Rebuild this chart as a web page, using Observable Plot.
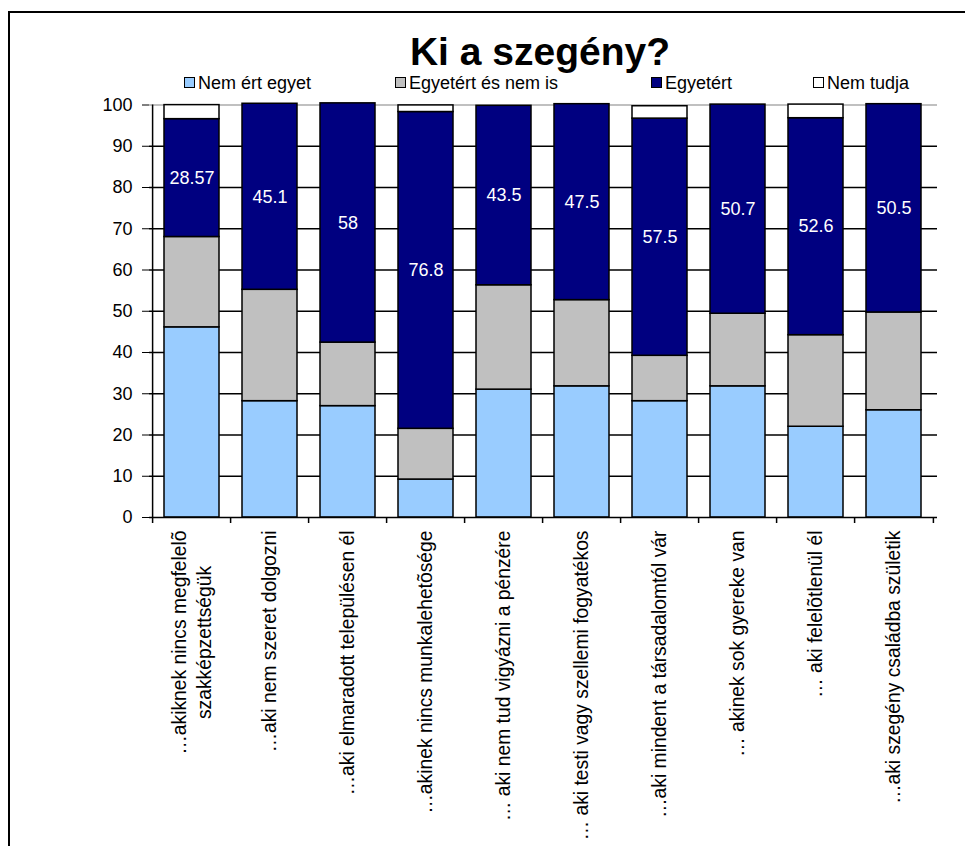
<!DOCTYPE html>
<html>
<head>
<meta charset="utf-8">
<script src="https://cdn.jsdelivr.net/npm/d3@7"></script>
<script src="https://cdn.jsdelivr.net/npm/@observablehq/plot@0.6"></script>
<style>
  html, body { margin: 0; padding: 0; background: #fff; width: 965px; height: 846px; overflow: hidden; }
  body { position: relative; font-family: "Liberation Sans", Arial, sans-serif; color: #000; }
  #frame { position: absolute; left: 8px; top: 11px; width: 1000px; height: 1000px; border: 2px solid #000; box-sizing: border-box; pointer-events: none; z-index: 5; }
  #title { position: absolute; left: 0; width: 1080px; top: 32px; text-align: center; font-weight: bold; font-size: 39px; line-height: 39px; white-space: nowrap; }
  .lg-item { position: absolute; top: 74px; height: 18px; white-space: nowrap; }
  .lg-sw { position: absolute; left: 0; top: 3px; width: 11px; height: 11px; box-sizing: border-box; border: 1px solid #000; }
  .lg-tx { position: absolute; left: 14px; top: 0; font-size: 18px; line-height: 18px; }
  #chart { position: absolute; left: 0; top: 95px; }
</style>
</head>
<body>
<div id="frame"></div>
<div id="title"></div>
<div id="legend"></div>
<div id="chart"></div>
<script>
// ---- data ----
const title = "Ki a szegény?";
const categories = [
  "…akiknek nincs megfelelõ\nszakképzettségük",
  "…aki nem szeret dolgozni",
  "…aki elmaradott településen él",
  "…akinek nincs munkalehetõsége",
  "… aki nem tud vigyázni a pénzére",
  "… aki testi vagy szellemi fogyatékos",
  "…aki mindent a társadalomtól vár",
  "… akinek sok gyereke van",
  "… aki felelõtlenül él",
  "…aki szegény családba születik"
];
const series = ["Nem ért egyet", "Egyetért és nem is", "Egyetért", "Nem tudja"];
const nemErtEgyet     = [46.1, 28.2, 27.0,  9.2, 31.0, 31.8, 28.2, 31.8, 22.0, 26.0];
const egyetertEsNemIs = [21.9, 27.0, 15.4, 12.3, 25.3, 20.9, 11.0, 17.6, 22.2, 23.7];
const egyetert        = [28.57, 45.1, 58, 76.8, 43.5, 47.5, 57.5, 50.7, 52.6, 50.5];
const nemTudja        = [3.4, 0, 0, 1.6, 0, 0, 3.0, 0, 3.3, 0];
const yTicks = [0, 10, 20, 30, 40, 50, 60, 70, 80, 90, 100];
const colors = ["#99CCFF", "#C0C0C0", "#000080", "#FFFFFF"];

// ---- layout ----
const W = 965, H = 751, mL = 149, mR = 28, mT = 9.5, mB = 329;
const step = (W - mL - mR) / categories.length;
const legendX = [184, 395, 651, 813];
const font = '"Liberation Sans", Arial, sans-serif';
const labelSize = 19.3;

document.getElementById("title").textContent = title;
const legend = document.getElementById("legend");
series.forEach((s, i) => {
  const item = document.createElement("div");
  item.className = "lg-item";
  item.style.left = legendX[i] + "px";
  const sw = document.createElement("div");
  sw.className = "lg-sw";
  sw.style.background = colors[i];
  const tx = document.createElement("div");
  tx.className = "lg-tx";
  tx.textContent = s;
  item.appendChild(sw); item.appendChild(tx);
  legend.appendChild(item);
});

// ---- table ----
const valuesBySeries = [nemErtEgyet, egyetertEsNemIs, egyetert, nemTudja];
const rows = [];
categories.forEach((c, i) => {
  series.forEach((s, j) => rows.push({cat: c, series: s, value: valuesBySeries[j][i]}));
});
const labelRows = categories.map((c, i) => ({
  cat: c,
  mid: nemErtEgyet[i] + egyetertEsNemIs[i] + egyetert[i] / 2,
  label: String(egyetert[i])
}));

// x labels (split multi-line)
const ctx = document.createElement("canvas").getContext("2d");
ctx.font = `${labelSize}px ${font}`;
const singleRows = [], firstRows = [], secondRows = [];
categories.forEach(c => {
  const parts = c.split("\n");
  if (parts.length === 1) singleRows.push({cat: c, text: c});
  else {
    const w1 = ctx.measureText(parts[0]).width;
    firstRows.push({cat: c, text: parts[0]});
    secondRows.push({cat: c, text: parts[1], off: w1 / 2});
  }
});
const labelTop = 13;

const chart = Plot.plot({
  width: W, height: H,
  marginLeft: mL, marginRight: mR, marginTop: mT, marginBottom: mB,
  style: {fontFamily: font, fontSize: "18px", color: "#000", background: "transparent"},
  x: {domain: categories, paddingInner: 0.29, paddingOuter: 0.145, axis: null},
  y: {domain: [0, 100], axis: null},
  color: {domain: series, range: colors},
  marks: [
    Plot.ruleY(yTicks.filter(t => t > 0 && t < 100), {stroke: "#000", strokeWidth: 1.5}),
    Plot.ruleY(yTicks.filter(t => t === 100), {stroke: "#C0C0C0", strokeWidth: 2}),
    Plot.barY(rows.filter(d => d.value > 0), {x: "cat", y: "value", z: "series", fill: "series", stroke: "#000", strokeWidth: 1.5}),
    Plot.text(labelRows, {x: "cat", y: "mid", text: "label", fill: "#fff", fontSize: 18}),
    Plot.ruleY(yTicks.filter(t => t === 0), {stroke: "#000", strokeWidth: 1.5}),
    Plot.ruleX([categories[0]], {y1: d => 0, y2: d => 100, dx: -step / 2, stroke: "#000", strokeWidth: 1.5}),
    Plot.ruleX(categories, {y1: d => 0, y2: d => 0, insetBottom: -6, dx: -step / 2, stroke: "#000", strokeWidth: 1.5}),
    Plot.ruleX([categories[categories.length - 1]], {y1: d => 0, y2: d => 0, insetBottom: -6, dx: step / 2, stroke: "#000", strokeWidth: 1.5}),
    Plot.axisY({ticks: yTicks, tickSize: 7, tickPadding: 10, fontSize: 18, label: null, stroke: "#000"}),
    Plot.text(singleRows, {x: "cat", y: d => 0, text: "text", rotate: -90, textAnchor: "end", dy: labelTop, fontSize: labelSize}),
    Plot.text(firstRows, {x: "cat", y: d => 0, text: "text", rotate: -90, textAnchor: "end", dy: labelTop, dx: -12, fontSize: labelSize}),
    ...secondRows.map(r => Plot.text([r], {x: "cat", y: d => 0, text: "text", rotate: -90, textAnchor: "middle", dy: labelTop + r.off, dx: 13, fontSize: labelSize}))
  ]
});
document.getElementById("chart").appendChild(chart);
</script>
</body>
</html>
